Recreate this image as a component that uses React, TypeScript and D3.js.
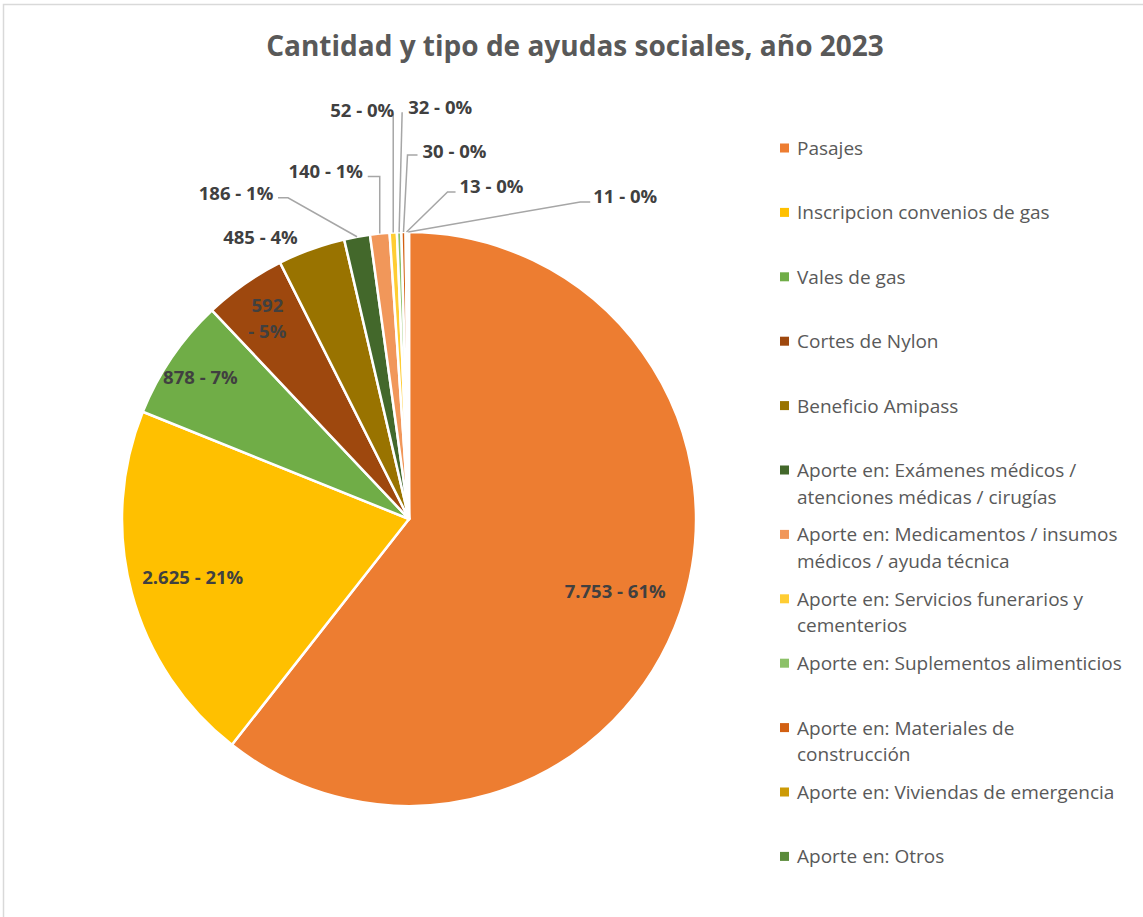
import React, { useEffect, useRef } from 'react';
import * as d3 from 'd3';

const chartTitle = 'Cantidad y tipo de ayudas sociales, año 2023';

const categories = [
  'Pasajes',
  'Inscripcion convenios de gas',
  'Vales de gas',
  'Cortes de Nylon',
  'Beneficio Amipass',
  'Aporte en: Exámenes médicos / atenciones médicas / cirugías',
  'Aporte en: Medicamentos / insumos médicos / ayuda técnica',
  'Aporte en: Servicios funerarios y cementerios',
  'Aporte en: Suplementos alimenticios',
  'Aporte en: Materiales de construcción',
  'Aporte en: Viviendas de emergencia',
  'Aporte en: Otros',
];

const values = [7753, 2625, 878, 592, 485, 186, 140, 52, 32, 30, 13, 11];

const sliceColors = [
  '#ED7D31', '#FFC000', '#70AD47', '#9E480E', '#997300', '#43682B',
  '#F1975A', '#FFCD33', '#8CC168', '#D26012', '#CC9A06', '#5A8B3A',
];

// label placement (layout only)
type LabelLayout =
  | { kind: 'inside'; r: number; split?: boolean }
  | { kind: 'outside'; dx: number; dy: number; leader?: { ex: number; ey: number; h: number } };

const labelLayout: LabelLayout[] = [
  { kind: 'inside', r: 0.76 },
  { kind: 'inside', r: 0.78 },
  { kind: 'inside', r: 0.88 },
  { kind: 'inside', r: 0.86, split: true },
  { kind: 'outside', dx: -51, dy: -13 },
  { kind: 'outside', dx: -121, dy: -44, leader: { ex: 42, ey: 5, h: 10 } },
  { kind: 'outside', dx: -54, dy: -63, leader: { ex: 42, ey: 6, h: 12 } },
  { kind: 'outside', dx: -31, dy: -123, leader: { ex: 31, ey: 4, h: 0 } },
  { kind: 'outside', dx: 41, dy: -126, leader: { ex: -38, ey: 6, h: 0 } },
  { kind: 'outside', dx: 51, dy: -82, leader: { ex: -37, ey: 5, h: -10 } },
  { kind: 'outside', dx: 85, dy: -47, leader: { ex: -36, ey: 7, h: -8 } },
  { kind: 'outside', dx: 217, dy: -37, leader: { ex: -35, ey: 7, h: -10 } },
];

const W = 1143;
const H = 917;
const cx = 409;
const cy = 519;
const radius = 287;
const font = "'Open Sans', 'Noto Sans', sans-serif";
const legendFontSize = 19;
const legendWrap = 330;
const labelFontSize = 18.5;

const fmt = d3.formatLocale({ decimal: ',', thousands: '.', grouping: [3], currency: ['$', ''] }).format(',d');

function wrapText(text: string, maxW: number): string[] {
  const ctx = document.createElement('canvas').getContext('2d')!;
  ctx.font = `${legendFontSize}px ${font}`;
  const words = text.split(' ');
  const lines: string[] = [];
  let cur = '';
  words.forEach((w) => {
    const t = cur ? cur + ' ' + w : w;
    if (ctx.measureText(t).width > maxW && cur) {
      lines.push(cur);
      cur = w;
    } else {
      cur = t;
    }
  });
  if (cur) lines.push(cur);
  return lines;
}

export default function App() {
  const ref = useRef<SVGSVGElement>(null);

  useEffect(() => {
    const svg = d3.select(ref.current);
    svg.selectAll('*').remove();

    svg.append('rect')
      .attr('x', 0).attr('y', 0).attr('width', W).attr('height', H)
      .attr('fill', '#fff');
    svg.append('rect')
      .attr('x', 3.5).attr('y', 4.5).attr('width', W + 20).attr('height', H + 20)
      .attr('fill', 'none').attr('stroke', '#d9d9d9').attr('stroke-width', 1.5);

    svg.append('text')
      .attr('x', 575).attr('y', 45)
      .attr('text-anchor', 'middle').attr('dominant-baseline', 'central')
      .attr('font-family', font).attr('font-size', 28).attr('font-weight', 700)
      .attr('fill', '#595959')
      .text(chartTitle);

    const total = d3.sum(values);
    const pie = d3.pie<number>().sort(null).value((d) => d);
    const arcs = pie(values);
    const arc = d3.arc<d3.PieArcDatum<number>>().innerRadius(0).outerRadius(radius);

    const g = svg.append('g').attr('transform', `translate(${cx},${cy})`);

    g.selectAll('path.slice')
      .data(arcs)
      .enter()
      .append('path')
      .attr('class', 'slice')
      .attr('d', arc as any)
      .attr('fill', (d, i) => sliceColors[i])
      .attr('stroke', '#fff')
      .attr('stroke-width', 2.5)
      .attr('stroke-linejoin', 'round');

    const pt = (a: number, r: number) => [r * Math.sin(a), -r * Math.cos(a)];

    arcs.forEach((d, i) => {
      const mid = (d.startAngle + d.endAngle) / 2;
      const lay = labelLayout[i];
      const v = values[i];
      const pct = Math.round((v / total) * 100);
      let tx: number;
      let ty: number;
      if (lay.kind === 'inside') {
        [tx, ty] = pt(mid, radius * lay.r);
      } else {
        const [ax, ay] = pt(mid, radius);
        tx = ax + lay.dx;
        ty = ay + lay.dy;
        if (lay.leader) {
          const ex = tx + lay.leader.ex;
          const ey = ty + lay.leader.ey;
          const line = d3.line();
          const pts: [number, number][] = [[ax, ay]];
          if (lay.leader.h !== 0) pts.push([ex + lay.leader.h, ey]);
          pts.push([ex, ey]);
          g.append('path')
            .attr('d', line(pts))
            .attr('fill', 'none')
            .attr('stroke', '#a6a6a6')
            .attr('stroke-width', 1.5);
        }
      }
      const t = g.append('text')
        .attr('text-anchor', 'middle')
        .attr('dominant-baseline', 'central')
        .attr('font-family', font).attr('font-size', labelFontSize).attr('font-weight', 700)
        .attr('fill', '#404040');
      if (lay.kind === 'inside' && lay.split) {
        t.append('tspan').attr('x', tx).attr('y', ty - 13).text(fmt(v));
        t.append('tspan').attr('x', tx).attr('y', ty + 13).text(`- ${pct}%`);
      } else {
        t.attr('x', tx).attr('y', ty).text(`${fmt(v)} - ${pct}%`);
      }
    });

    // legend
    const lg = svg.append('g');
    categories.forEach((c, i) => {
      const y = 148 + i * 64.4;
      lg.append('rect')
        .attr('x', 780).attr('y', y - 4.5).attr('width', 9).attr('height', 9)
        .attr('fill', sliceColors[i]);
      wrapText(c, legendWrap).forEach((line, k) => {
        lg.append('text')
          .attr('x', 797).attr('y', y + k * 26.5)
          .attr('dominant-baseline', 'central')
          .attr('font-family', font).attr('font-size', legendFontSize)
          .attr('fill', '#595959')
          .text(line);
      });
    });
  }, []);

  return (
    <svg
      ref={ref}
      width={W}
      height={H}
      style={{ position: 'absolute', left: 0, top: 0, display: 'block' }}
    />
  );
}
